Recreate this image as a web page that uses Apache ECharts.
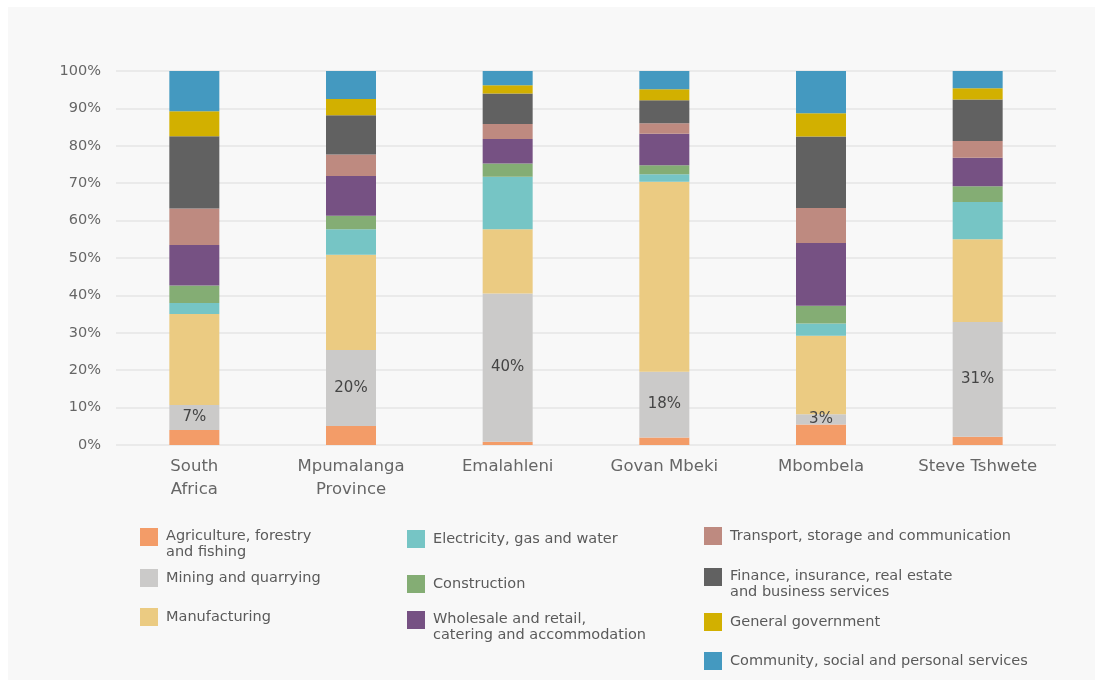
<!DOCTYPE html>
<html>
<head>
<meta charset="utf-8">
<script src="https://cdn.jsdelivr.net/npm/echarts@6/dist/echarts.min.js"></script>
<style>
  html, body { margin: 0; padding: 0; background: #ffffff; }
  #panel { position: absolute; left: 8px; top: 7px; width: 1087px; height: 673px; background: #f8f8f8; }
  #chart { position: absolute; left: 0; top: 0; width: 1095px; height: 680px; }
</style>
</head>
<body>
<div id="panel"></div>
<div id="chart"></div>
<script>
// Categories (tick labels)
const categories = ['South\nAfrica', 'Mpumalanga\nProvince', 'Emalahleni', 'Govan Mbeki', 'Mbombela', 'Steve Tshwete'];
const yTicks = [0, 10, 20, 30, 40, 50, 60, 70, 80, 90, 100];

// Series values (% share of GVA)
const agriculture   = [4.0, 5.1, 0.9, 2.0, 5.5, 2.2];
const mining        = [6.7, 20.3, 39.6, 17.6, 2.7, 30.7];
const manufacturing = [24.3, 25.5, 17.2, 50.8, 21.0, 22.1];
const electricity   = [3.0, 6.8, 14.0, 2.0, 3.3, 10.0];
const construction  = [4.65, 3.6, 3.6, 2.4, 4.7, 4.2];
const wholesale     = [10.8, 10.6, 6.5, 8.4, 16.8, 7.6];
const transport     = [9.8, 5.8, 4.0, 2.8, 9.4, 4.5];
const finance       = [19.3, 10.5, 8.2, 6.2, 19.1, 11.1];
const government    = [6.7, 4.3, 2.2, 2.9, 6.2, 3.0];
const community     = [10.8, 7.5, 3.8, 4.9, 11.3, 4.6];

const seriesDefs = [
  { name: 'Agriculture, forestry and fishing', data: agriculture, color: '#f39c68', label: ['Agriculture, forestry', 'and fishing'] },
  { name: 'Mining and quarrying', data: mining, color: '#cbcac9', label: ['Mining and quarrying'], showLabel: true },
  { name: 'Manufacturing', data: manufacturing, color: '#ebcb82', label: ['Manufacturing'] },
  { name: 'Electricity, gas and water', data: electricity, color: '#76c5c5', label: ['Electricity, gas and water'] },
  { name: 'Construction', data: construction, color: '#84ad74', label: ['Construction'] },
  { name: 'Wholesale and retail, catering and accommodation', data: wholesale, color: '#765183', label: ['Wholesale and retail,', 'catering and accommodation'] },
  { name: 'Transport, storage and communication', data: transport, color: '#be8a80', label: ['Transport, storage and communication'] },
  { name: 'Finance, insurance, real estate and business services', data: finance, color: '#616161', label: ['Finance, insurance, real estate', 'and business services'] },
  { name: 'General government', data: government, color: '#d2b000', label: ['General government'] },
  { name: 'Community, social and personal services', data: community, color: '#4499c0', label: ['Community, social and personal services'] }
];

// legend placement (icon left, icon top)
const legendPos = [
  [140, 528], [140, 569], [140, 608],
  [407, 530], [407, 575], [407, 611],
  [704, 527], [704, 568], [704, 613], [704, 652]
];

const FONT = '"DejaVu Sans", sans-serif';
const labelMap = {};
seriesDefs.forEach(s => {
  labelMap[s.name] = s.label.length > 1
    ? '{s| }\n' + s.label.map(l => '{t|' + l + '}').join('\n')
    : s.label[0];
});

const legends = seriesDefs.map((s, i) => {
  const twoLine = s.label.length > 1;
  return {
    data: [s.name],
    left: legendPos[i][0],
    top: twoLine ? legendPos[i][1] - 11 : legendPos[i][1],
    padding: 0,
    itemWidth: 18,
    itemHeight: 18,
    itemGap: 0,
    icon: 'rect',
    selectedMode: false,
    formatter: name => labelMap[name],
    textStyle: {
      fontFamily: FONT,
      fontSize: 14.5,
      color: '#5a5a5a',
      padding: [0, 0, 0, 3],
      rich: {
        s: { fontSize: 8, lineHeight: 14 },
        t: { fontFamily: FONT, fontSize: 14.5, color: '#5a5a5a', lineHeight: 16, padding: [0, 0, 0, 0] }
      }
    }
  };
});

const series = seriesDefs.map(s => ({
  name: s.name,
  type: 'bar',
  stack: 'total',
  barWidth: 50,
  data: s.data,
  itemStyle: { color: s.color },
  label: s.showLabel ? {
    show: true,
    position: 'inside',
    fontFamily: FONT,
    fontSize: 15,
    color: '#444',
    formatter: p => Math.round(p.value) + '%'
  } : { show: false },
  emphasis: { disabled: true }
}));

const chart = echarts.init(document.getElementById('chart'), null, { renderer: 'canvas' });
chart.setOption({
  backgroundColor: 'transparent',
  animation: false,
  grid: { left: 116, right: 39, top: 71, bottom: 235, containLabel: false },
  legend: legends,
  xAxis: {
    type: 'category',
    data: categories,
    axisLine: { show: false },
    axisTick: { show: false },
    axisLabel: {
      interval: 0,
      hideOverlap: false,
      fontFamily: FONT,
      fontSize: 16.5,
      color: '#666',
      lineHeight: 23,
      margin: 10
    }
  },
  yAxis: {
    type: 'value',
    min: yTicks[0],
    max: yTicks[yTicks.length - 1],
    interval: yTicks[1] - yTicks[0],
    axisLine: { show: false },
    axisTick: { show: false },
    splitLine: { lineStyle: { color: '#e6e6e6', width: 1.5 } },
    axisLabel: {
      fontFamily: FONT,
      fontSize: 14.5,
      color: '#666',
      margin: 15,
      formatter: '{value}%'
    }
  },
  series: series
});
</script>
</body>
</html>
